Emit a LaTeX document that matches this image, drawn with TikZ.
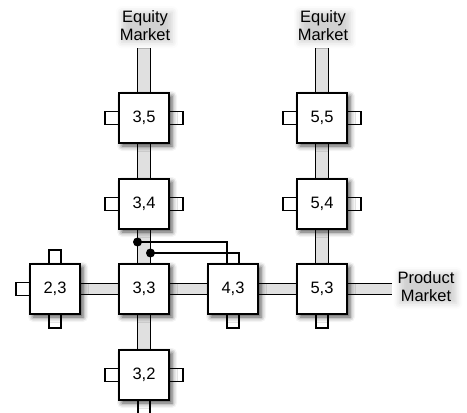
\documentclass[tikz,border=0pt]{standalone}
\usepackage{fontspec}
\setmainfont{Liberation Sans}
\usetikzlibrary{calc,backgrounds,shadows.blur}
\tikzset{
  cell/.style={draw, line width=2pt, fill=white, minimum size=50pt, inner sep=0pt,
    font=\fontsize{16.5}{18}\selectfont,
    blur shadow={shadow xshift=3pt, shadow yshift=-3pt, shadow blur radius=5pt, shadow opacity=70}},
  mlabel/.style={align=center, inner sep=0pt, anchor=north, font=\fontsize{16.5}{18}\selectfont,
    blur shadow={shadow xshift=2pt, shadow yshift=-2pt, shadow blur radius=6pt, shadow opacity=18}},
  stub/.style={draw, line width=1.8pt, fill=white},
  pipeline/.style={line width=1.8pt},
  pipefill/.style={fill=black!12},
  wire/.style={line width=1.8pt},
  dotmark/.style={fill=black}
}
\newcommand\vpipe[2]{%
  \fill[pipefill] ($(#1)+(-6.5,0)$) rectangle ($(#2)+(6.5,0)$);
  \draw[pipeline] ($(#1)+(-6.5,0)$) -- ($(#2)+(-6.5,0)$);
  \draw[pipeline] ($(#1)+(6.5,0)$) -- ($(#2)+(6.5,0)$);}
\newcommand\hpipe[2]{%
  \fill[pipefill] ($(#1)+(0,-5.5)$) rectangle ($(#2)+(0,5.5)$);
  \draw[pipeline] ($(#1)+(0,-5.5)$) -- ($(#2)+(0,-5.5)$);
  \draw[pipeline] ($(#1)+(0,5.5)$) -- ($(#2)+(0,5.5)$);}
\newcommand\stubW[1]{\draw[stub] ($(#1.west)+(-13,-6.5)$) rectangle ($(#1.west)+(1,6.5)$);}
\newcommand\stubE[1]{\draw[stub] ($(#1.east)+(-1,-6.5)$) rectangle ($(#1.east)+(13,6.5)$);}
\newcommand\stubN[1]{\draw[stub] ($(#1.north)+(-6,-13)$) rectangle ($(#1.north)+(6,1)$);}
\newcommand\stubS[1]{\draw[stub] ($(#1.south)+(-6,-1)$) rectangle ($(#1.south)+(6,13)$);}
\begin{document}
\begin{tikzpicture}[x=1pt,y=-1pt]
\useasboundingbox (0,0) rectangle (467,413);
% labels
\node[mlabel] (eqA) at (145,10) {Equity\\Market};
\node[mlabel] (eqB) at (323,10) {Equity\\Market};
\node[mlabel] (pm) at (426,271) {Product\\Market};
\coordinate (eqAend) at (144,48);
\coordinate (eqBend) at (322,48);
\coordinate (pmend) at (392,289);
% cells
\node[cell] (c35) at (144,118) {3,5};
\node[cell] (c34) at (144,204) {3,4};
\node[cell] (c33) at (144,289) {3,3};
\node[cell] (c32) at (144,375) {3,2};
\node[cell] (c23) at (55,289) {2,3};
\node[cell] (c43) at (233,289) {4,3};
\node[cell] (c53) at (322,289) {5,3};
\node[cell] (c54) at (322,204) {5,4};
\node[cell] (c55) at (322,118) {5,5};
\begin{scope}[on background layer]
  % pipes
  \vpipe{eqAend}{c35.north}
  \vpipe{c35.south}{c34.north}
  \vpipe{c34.south}{c33.north}
  \vpipe{c33.south}{c32.north}
  \vpipe{eqBend}{c55.north}
  \vpipe{c55.south}{c54.north}
  \vpipe{c54.south}{c53.north}
  \hpipe{c23.east}{c33.west}
  \hpipe{c33.east}{c43.west}
  \hpipe{c43.east}{c53.west}
  \hpipe{c53.east}{pmend}
  % stubs
  \stubW{c35}\stubE{c35}
  \stubW{c34}\stubE{c34}
  \stubW{c32}\stubE{c32}\stubS{c32}
  \stubN{c23}\stubS{c23}\stubW{c23}
  \stubS{c43}
  \stubS{c53}
  \stubW{c54}\stubE{c54}
  \stubW{c55}\stubE{c55}
  % wires
  \draw[wire] ($(c33.north)+(-6.5,-21)$) -| ($(c43.north)+(-6,0)$);
  \draw[wire] ($(c33.north)+(6.5,-10)$) -| ($(c43.north)+(6,0)$);
\end{scope}
\fill[dotmark] ($(c33.north)+(-6.5,-21)$) circle (4.5pt);
\fill[dotmark] ($(c33.north)+(6.5,-10)$) circle (4.5pt);
\end{tikzpicture}
\end{document}
